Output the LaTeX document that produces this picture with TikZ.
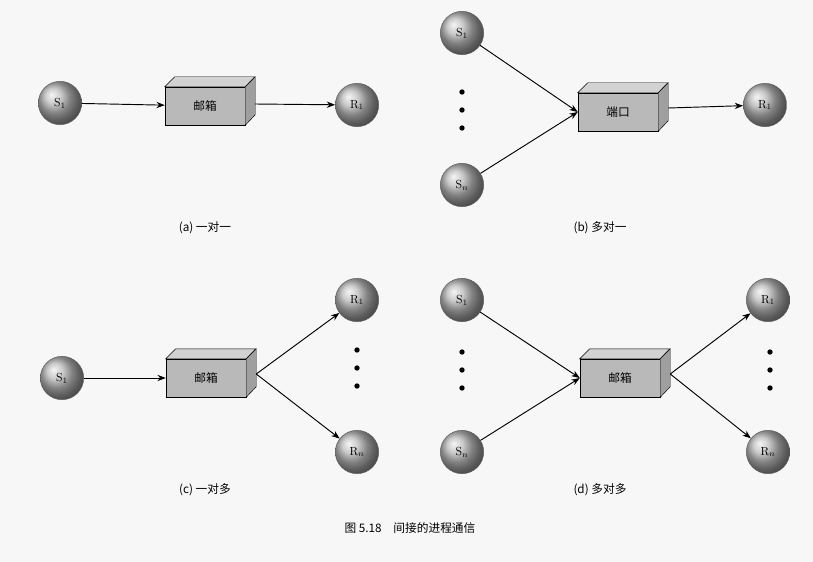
\documentclass[tikz,border=0pt]{standalone}
\usepackage{fontspec}
\newfontfamily\cjk{Noto Sans CJK SC}
\usetikzlibrary{arrows.meta}
\begin{document}
\begin{tikzpicture}[x=0.03cm,y=-0.03cm,
  ball/.style={circle,minimum size=1.3cm,inner sep=0pt,ball color=gray!55,draw=gray!70!black},
  mbox/.style={rectangle,minimum width=2.4cm,minimum height=1.14cm,fill=gray!55,draw=black,font=\cjk},
  arr/.style={-{Stealth[length=2.5mm]},thick},
  dot/.style={circle,fill=black,inner sep=0pt,minimum size=1.6mm},
  lab/.style={font=\cjk}]
\useasboundingbox[fill=gray!6] (0,0) rectangle (813,562);
\newcommand{\boxdepth}[1]{%
  \fill[gray!35,draw=black] (#1.north west) -- ++(10,-10) -- ++(80,0) -- (#1.north east) -- cycle;
  \fill[gray!75,draw=black] (#1.north east) -- ++(10,-10) -- ++(0,38) -- (#1.south east) -- cycle;}
% (a)
\node[ball] (as) at (60,103) {S$_1$};
\node[mbox] (ab) at (205,106) {邮箱}; \boxdepth{ab}
\node[ball] (ar) at (357,105) {R$_1$};
\draw[arr] (as) -- (ab);
\draw[arr] (ab.east) ++(10,-2) coordinate (abe) (abe) -- (ar);
\node[lab] (al) at (205,228) {(a)\ 一对一};
% (b)
\node[ball] (bs1) at (462,33) {S$_1$};
\node[ball] (bsn) at (462,185) {S$_n$};
\node[dot] (bd1) at (462,92) {}; \node[dot] (bd2) at (462,110) {}; \node[dot] (bd3) at (462,128) {};
\node[mbox] (bb) at (618,112) {端口}; \boxdepth{bb}
\node[ball] (br) at (765,105) {R$_1$};
\draw[arr] (bs1) -- (bb.west);
\draw[arr] (bsn) -- (bb.west);
\draw[arr] (bb.east) ++(10,-4) coordinate (bbe) (bbe) -- (br);
\node[lab] (bl) at (600,228) {(b)\ 多对一};
% (c)
\node[ball] (cs) at (62,378) {S$_1$};
\node[mbox] (cb) at (206,378) {邮箱}; \boxdepth{cb}
\node[ball] (cr1) at (357,300) {R$_1$};
\node[ball] (crn) at (357,452) {R$_n$};
\node[dot] (cd1) at (357,350) {}; \node[dot] (cd2) at (357,368) {}; \node[dot] (cd3) at (357,386) {};
\draw[arr] (cs) -- (cb);
\draw[arr] (cb.east) ++(10,-4) coordinate (cbe) (cbe) -- (cr1);
\draw[arr] (cbe) -- (crn);
\node[lab] (cl) at (205,490) {(c)\ 一对多};
% (d)
\node[ball] (ds1) at (462,300) {S$_1$};
\node[ball] (dsn) at (462,452) {S$_n$};
\node[dot] (dd1) at (462,352) {}; \node[dot] (dd2) at (462,370) {}; \node[dot] (dd3) at (462,388) {};
\node[mbox] (db) at (620,378) {邮箱}; \boxdepth{db}
\node[ball] (dr1) at (768,300) {R$_1$};
\node[ball] (drn) at (768,452) {R$_n$};
\node[dot] (de1) at (770,352) {}; \node[dot] (de2) at (770,370) {}; \node[dot] (de3) at (770,388) {};
\draw[arr] (ds1) -- (db.west);
\draw[arr] (dsn) -- (db.west);
\draw[arr] (db.east) ++(10,-4) coordinate (dbe) (dbe) -- (dr1);
\draw[arr] (dbe) -- (drn);
\node[lab] (dl) at (600,490) {(d)\ 多对多};
\node[lab] (cap) at (410,528) {图 5.18\quad 间接的进程通信};
\end{tikzpicture}
\end{document}
